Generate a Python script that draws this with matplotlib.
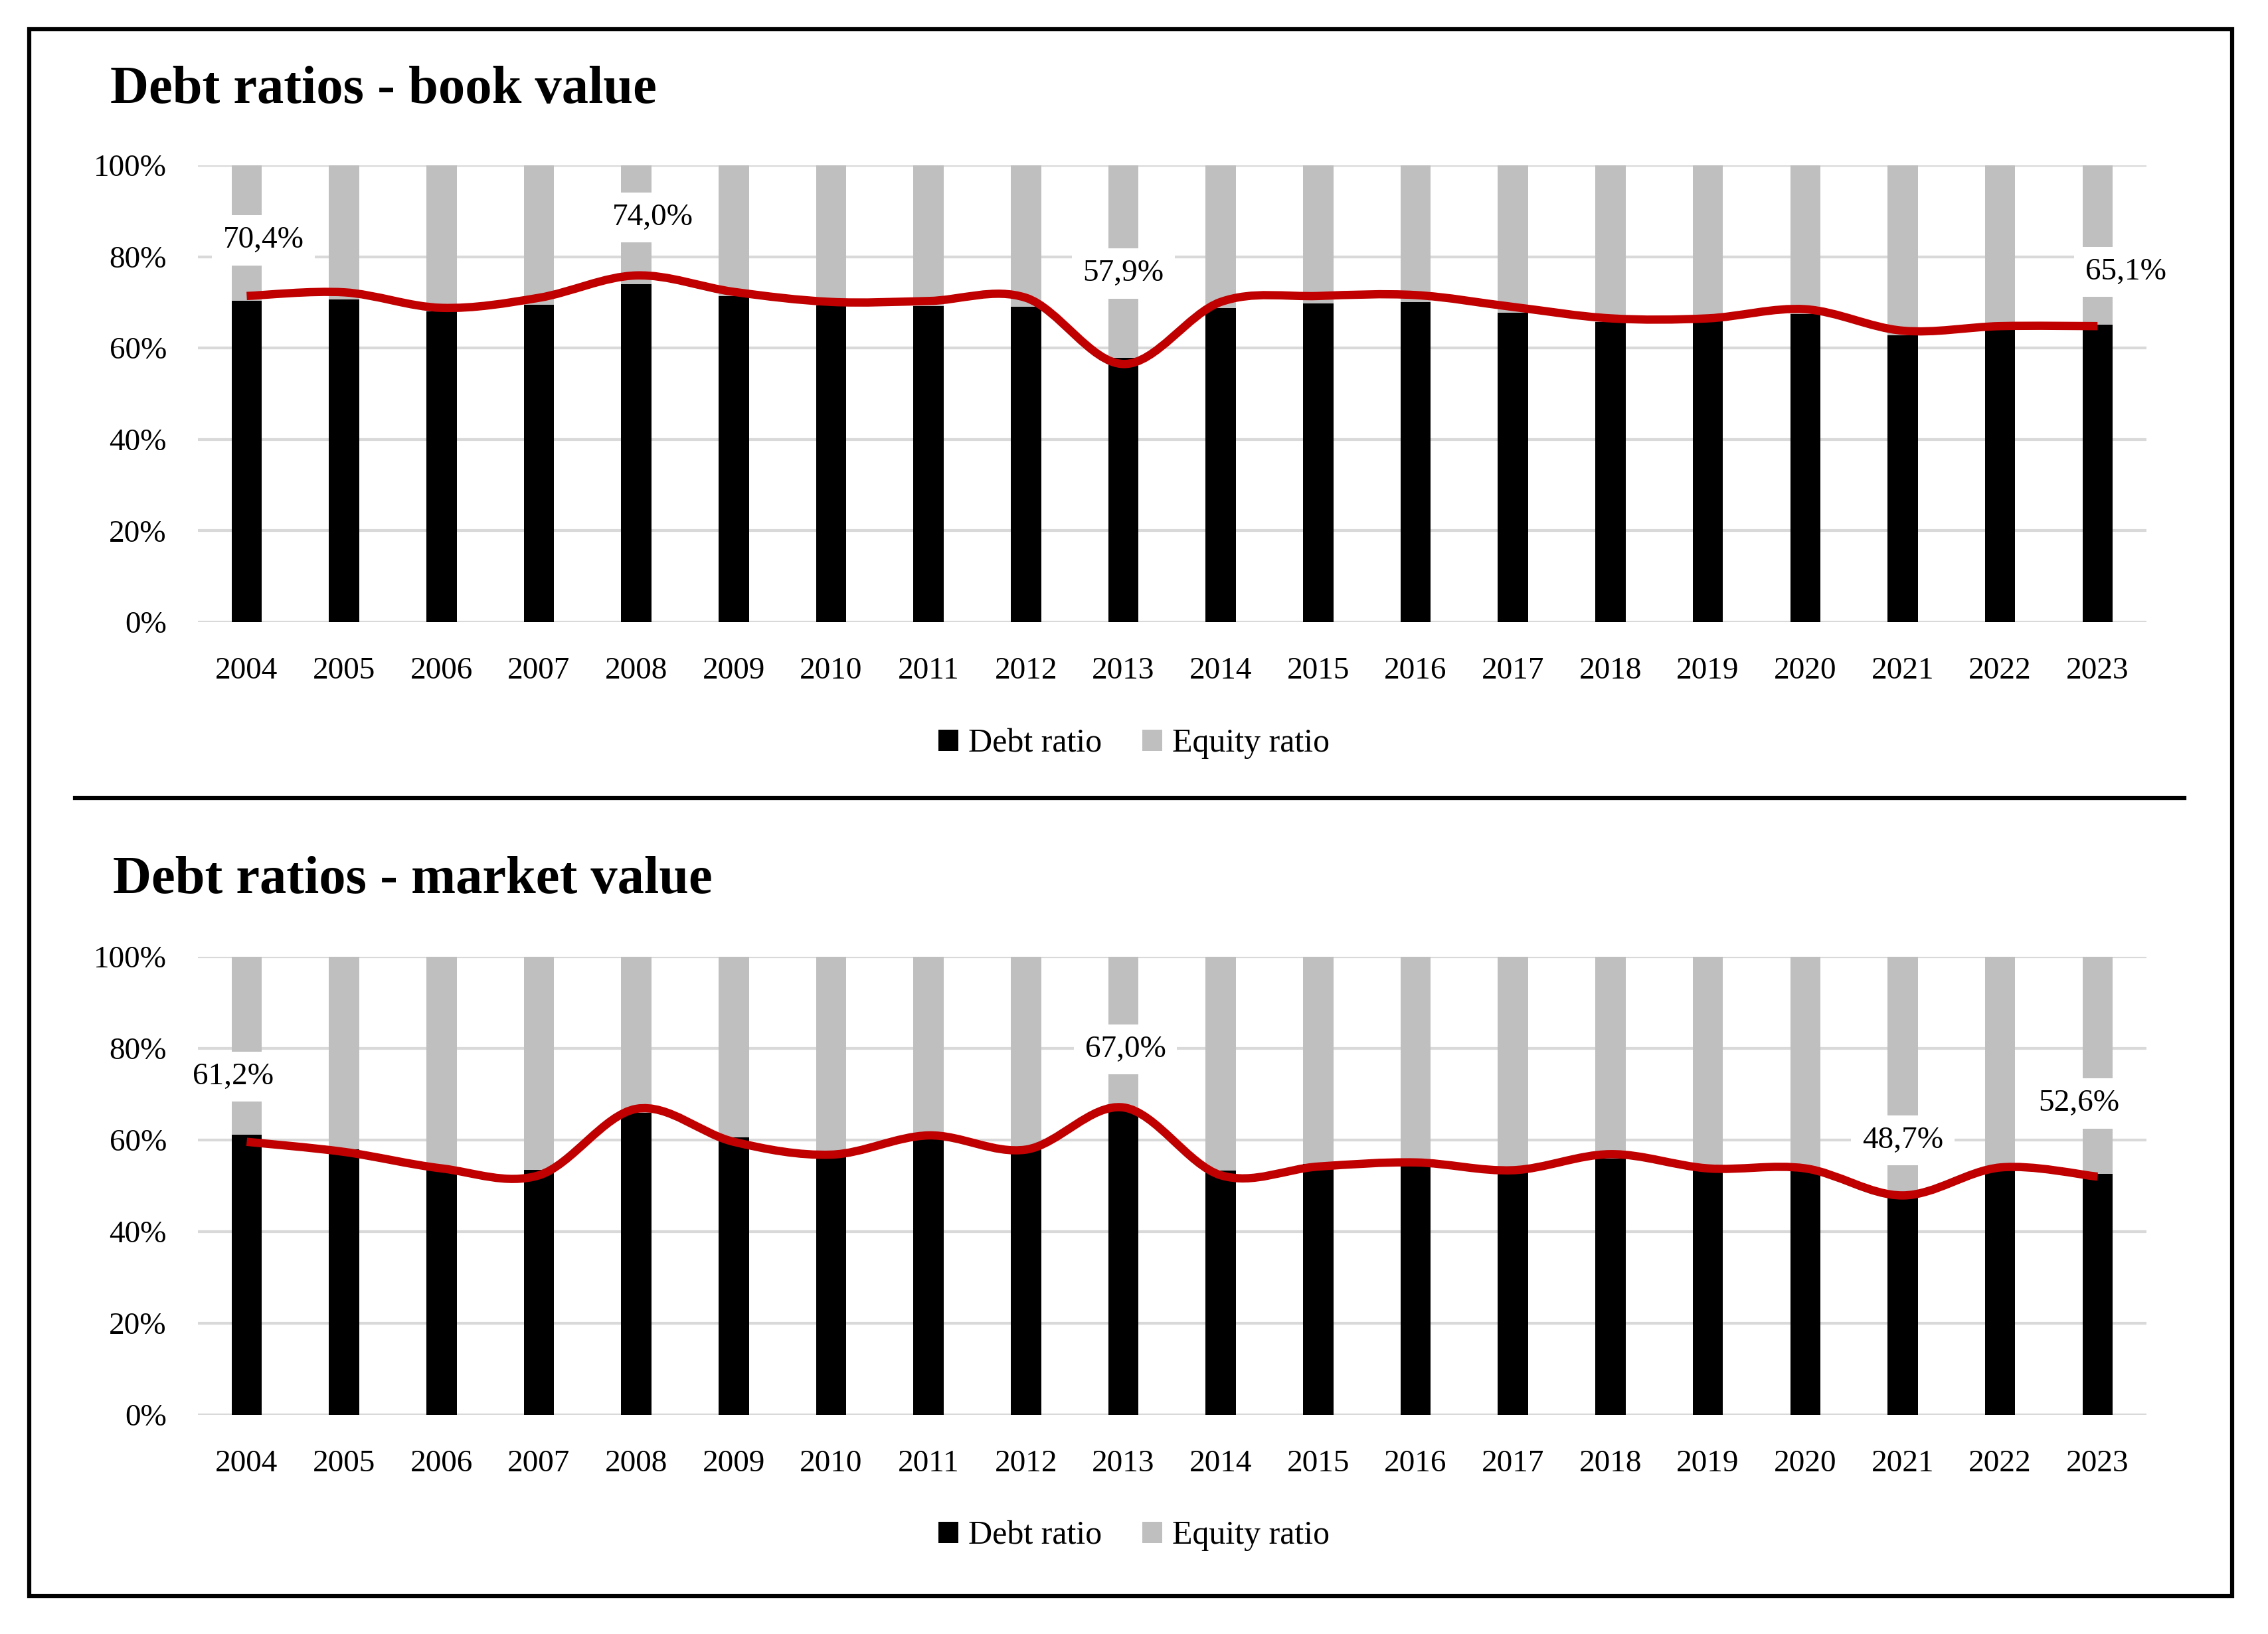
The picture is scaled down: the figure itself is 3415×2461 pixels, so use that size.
import matplotlib.pyplot as plt
import numpy as np
from matplotlib.path import Path
from matplotlib.patches import PathPatch, Rectangle
from matplotlib.lines import Line2D

plt.rcParams['font.family'] = ['Liberation Serif', 'DejaVu Serif']

years = [str(y) for y in range(2004, 2024)]

# book value (%)
book_debt = [70.4, 70.6, 68.0, 69.5, 74.0, 71.4, 69.4, 69.2, 69.1, 57.9,
             68.8, 69.7, 70.1, 67.7, 65.7, 65.8, 67.5, 62.8, 64.0, 65.1]
book_line = [71.4, 72.2, 68.8, 71.0, 75.9, 72.3, 70.1, 70.3, 71.0, 56.5,
             70.1, 71.4, 71.6, 69.0, 66.5, 66.5, 68.5, 63.8, 64.8, 64.8]
book_labels = {'2004': '70,4%', '2008': '74,0%', '2013': '57,9%', '2023': '65,1%'}

# market value (%)
market_debt = [61.2, 57.9, 54.2, 53.4, 66.0, 60.5, 57.7, 60.5, 58.0, 67.0,
               53.3, 54.8, 54.3, 53.8, 56.0, 53.6, 53.4, 48.7, 53.3, 52.6]
market_line = [59.6, 57.4, 53.8, 52.3, 66.8, 59.6, 56.8, 61.0, 57.9, 67.1,
               52.3, 54.2, 55.1, 53.4, 56.9, 53.8, 53.8, 47.9, 54.0, 52.0]
market_labels = {'2004': '61,2%', '2013': '67,0%', '2021': '48,7%', '2023': '52,6%'}

# label placement (x shift in categories, y in %)
book_label_pos = {'2004': (0.17, 83.6), '2008': (0.17, 88.6), '2013': (0.0, 76.3), '2023': (0.29, 76.7)}
market_label_pos = {'2004': (-0.14, 73.8), '2013': (0.02, 79.8), '2021': (0.0, 59.9), '2023': (-0.19, 68.0)}

RED = '#C00000'
GREY = '#BFBFBF'
GRID = '#D9D9D9'
FS = 34


def smooth_path(x, y, t=1 / 6):
    # Excel-like smoothed line: cubic bezier through every point
    x = np.asarray(x, float)
    y = np.asarray(y, float)
    verts = [(x[0], y[0])]
    codes = [Path.MOVETO]
    n = len(x)
    for i in range(n - 1):
        p0 = i - 1 if i > 0 else i
        p3 = i + 2 if i + 2 < n else i + 1
        c1 = (x[i] + (x[i + 1] - x[p0]) * t, y[i] + (y[i + 1] - y[p0]) * t)
        c2 = (x[i + 1] - (x[p3] - x[i]) * t, y[i + 1] - (y[p3] - y[i]) * t)
        verts += [c1, c2, (x[i + 1], y[i + 1])]
        codes += [Path.CURVE4] * 3
    return Path(verts, codes)


def draw_panel(ax, debt, line, labels, label_pos):
    x = np.arange(len(years))
    equity = [100 - d for d in debt]
    ax.bar(x, debt, width=0.31, color='black', label='Debt ratio', zorder=2)
    ax.bar(x, equity, width=0.31, bottom=debt, color=GREY, label='Equity ratio', zorder=2)
    ax.add_patch(PathPatch(smooth_path(x, line), facecolor='none', edgecolor=RED,
                           lw=9, capstyle='butt', zorder=3))
    for yr, txt in labels.items():
        i = years.index(yr)
        dx, ly = label_pos[yr]
        ax.text(i + dx, ly, txt, ha='center', va='center', fontsize=FS, zorder=5,
                bbox=dict(boxstyle='square,pad=0.35', fc='white', ec='none'))
    ax.set_xlim(-0.5, len(years) - 0.5)
    ax.set_ylim(0, 100)
    ax.set_yticks(range(0, 101, 20))
    ax.set_yticklabels([f'{v}%' for v in range(0, 101, 20)])
    ax.set_xticks(x)
    ax.set_xticklabels(years)
    ax.tick_params(axis='both', length=0, labelsize=FS)
    ax.tick_params(axis='x', pad=38)
    ax.tick_params(axis='y', pad=34)
    for s in ax.spines.values():
        s.set_visible(False)
    ax.grid(axis='y', color=GRID, lw=3, zorder=0)
    ax.set_axisbelow(True)


fig = plt.figure(figsize=(34.15, 24.61), dpi=100)

ax1 = fig.add_axes([0.0873, 0.6193, 0.859, 0.2795])
draw_panel(ax1, book_debt, book_line, book_labels, book_label_pos)
ax2 = fig.add_axes([0.0873, 0.1341, 0.859, 0.2804])
draw_panel(ax2, market_debt, market_line, market_labels, market_label_pos)

fig.text(0.0486, 0.945, 'Debt ratios - book value', fontsize=58, fontweight='bold', va='center')
fig.text(0.0498, 0.4612, 'Debt ratios - market value', fontsize=58, fontweight='bold', va='center')

for ax, ly in [(ax1, 0.5449), (ax2, 0.0601)]:
    h, l = ax.get_legend_handles_labels()
    fig.legend(h, l, loc='center', bbox_to_anchor=(0.5, ly), ncol=2, frameon=False,
               fontsize=36, handlelength=0.6, handleheight=0.6, handletextpad=0.3,
               columnspacing=1.2)

fig.patches.append(Rectangle((0.0129, 0.0232), 0.9713, 0.959, transform=fig.transFigure,
                             fill=False, ec='black', lw=4.5))
fig.lines.append(Line2D([0.0331, 0.963], [0.5116, 0.5116], transform=fig.transFigure,
                        color='black', lw=4.5))

fig.savefig('out.png', dpi=100)
